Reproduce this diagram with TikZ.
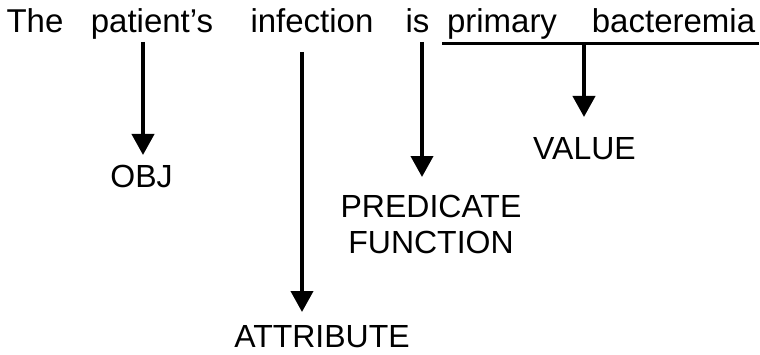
\documentclass[tikz,border=0pt]{standalone}
\usepackage{fontspec}
\setmainfont{Liberation Sans}
\usetikzlibrary{arrows.meta}
\tikzset{
	word/.style={anchor=base, inner sep=0pt, font=\fontsize{33}{38}\selectfont},
	role/.style={anchor=base, inner sep=0pt, font=\fontsize{32}{36}\selectfont, align=center},
	pointer/.style={line width=4pt, -{Triangle[width=22pt,length=21pt]}},
}

\begin{document}
\begin{tikzpicture}[x=1pt, y=1pt]
			%%%%% START %%%%%
			\useasboundingbox (0, 0) rectangle (760, 354);
			
			% sentence
			\node[word] (the) at (35, 321) {The};
			\node[word] (patient) at (152, 321) {patient's};
			\node[word] (infection) at (312, 321) {infection};
			\node[word] (is) at (417.5, 321) {is};
			\node[word] (primary) at (502, 321) {primary};
			\node[word] (bacteremia) at (673.5, 321) {bacteremia};
			
			% roles
			\node[role] (obj) at (141.5, 167) {OBJ};
			\node[role] (value) at (584.5, 194) {VALUE};
			\node[role, anchor=north] (pred) at (431, 159) {PREDICATE\\FUNCTION};
			\node[role] (attr) at (322, 7) {ATTRIBUTE};
			
			% underline of the value words
			\coordinate (ulstart) at (442, 310);
			\coordinate (ulend) at (759, 310);
			\draw[line width=3pt] (ulstart) -- (ulend);
			
			\coordinate (objtop) at (143, 312);
			\coordinate (objtip) at (143, 199);
			\coordinate (attrtop) at (302, 302);
			\coordinate (attrtip) at (302, 42);
			\coordinate (predtop) at (422, 312);
			\coordinate (predtip) at (422, 177);
			\coordinate (valtop) at (584, 311.5);
			\coordinate (valtip) at (584, 237);
			
			\draw[pointer] (objtop) -- (objtip);
			\draw[pointer] (attrtop) -- (attrtip);
			\draw[pointer] (predtop) -- (predtip);
			\draw[pointer] (valtop) -- (valtip);
			
			%%%%% END %%%%%
		\end{tikzpicture}
\end{document}
